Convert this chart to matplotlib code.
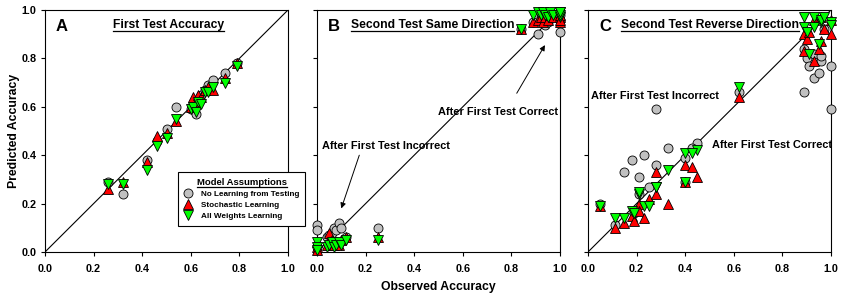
import matplotlib
matplotlib.use("Agg")
import matplotlib.pyplot as plt
from matplotlib.lines import Line2D

plt.rcParams['font.family'] = ['Liberation Sans', 'DejaVu Sans']

# ---------------- data ----------------
# Panel A: First Test Accuracy
a_obs   = [0.26, 0.32, 0.42, 0.46, 0.50, 0.54, 0.60, 0.61, 0.62, 0.63, 0.64, 0.66, 0.67, 0.69, 0.74, 0.79]
a_noL   = [0.29, 0.24, 0.38, 0.46, 0.51, 0.60, 0.59, 0.61, 0.57, 0.63, 0.65, 0.67, 0.69, 0.71, 0.74, 0.78]
a_stoch = [0.26, 0.29, 0.37, 0.48, 0.49, 0.54, 0.60, 0.64, 0.62, 0.65, 0.64, 0.67, 0.68, 0.67, 0.72, 0.78]
a_allW  = [0.28, 0.28, 0.34, 0.44, 0.47, 0.55, 0.59, 0.60, 0.58, 0.62, 0.61, 0.66, 0.66, 0.68, 0.70, 0.77]

# Panel B: Second Test Same Direction
b_obs   = [0.00, 0.00, 0.00, 0.04, 0.05, 0.06, 0.07, 0.08, 0.09, 0.10, 0.12, 0.25,
           0.84, 0.89, 0.91, 0.92, 0.93, 0.94, 0.95, 0.96, 0.97, 1.00, 1.00, 1.00, 1.00]
b_noL   = [0.11, 0.09, 0.02, 0.06, 0.07, 0.08, 0.10, 0.09, 0.12, 0.10, 0.06, 0.10,
           0.92, 0.95, 0.90, 0.97, 0.96, 0.94, 0.95, 0.97, 0.98, 0.91, 0.98, 0.99, 0.96]
b_stoch = [0.04, 0.02, 0.01, 0.03, 0.08, 0.05, 0.03, 0.04, 0.03, 0.05, 0.06, 0.06,
           0.92, 0.95, 0.96, 0.97, 0.95, 0.97, 0.96, 0.98, 0.97, 0.95, 0.97, 0.98, 0.96]
b_allW  = [0.04, 0.02, 0.01, 0.02, 0.03, 0.04, 0.02, 0.03, 0.04, 0.03, 0.05, 0.05,
           0.92, 0.98, 0.99, 0.98, 0.99, 0.98, 0.97, 0.99, 0.98, 0.97, 0.99, 0.98, 0.99]

# Panel C: Second Test Reverse Direction
c_obs   = [0.05, 0.11, 0.15, 0.18, 0.19, 0.21, 0.21, 0.23, 0.25, 0.28, 0.28, 0.33, 0.40, 0.40, 0.45, 0.43,
           0.62, 0.89, 0.89, 0.90, 0.91, 0.93, 0.93, 0.95, 0.96, 0.96, 0.97, 1.00, 1.00]
c_noL   = [0.20, 0.11, 0.33, 0.38, 0.16, 0.31, 0.24, 0.40, 0.27, 0.59, 0.36, 0.43, 0.39, 0.29, 0.45, 0.43,
           0.66, 0.66, 0.84, 0.80, 0.77, 0.72, 0.82, 0.74, 0.79, 0.81, 0.92, 0.77, 0.59]
c_stoch = [0.19, 0.10, 0.12, 0.15, 0.13, 0.20, 0.17, 0.14, 0.22, 0.33, 0.24, 0.20, 0.36, 0.29, 0.31, 0.35,
           0.64, 0.90, 0.83, 0.88, 0.91, 0.79, 0.96, 0.84, 0.87, 0.97, 0.92, 0.90, 0.96]
c_allW  = [0.19, 0.14, 0.14, 0.17, 0.16, 0.24, 0.25, 0.19, 0.19, 0.27, 0.27, 0.34, 0.41, 0.29, 0.42, 0.41,
           0.68, 0.97, 0.93, 0.91, 0.82, 0.93, 0.97, 0.86, 0.95, 0.96, 0.97, 0.95, 0.94]

ticks = [0.0, 0.2, 0.4, 0.6, 0.8, 1.0]
tick_labels = ["0.0", "0.2", "0.4", "0.6", "0.8", "1.0"]
titles = ["First Test Accuracy", "Second Test Same Direction", "Second Test Reverse Direction"]
letters = ["A", "B", "C"]
legend_labels = ["No Learning from Testing", "Stochastic Learning", "All Weights Learning"]

# ---------------- figure ----------------
fig = plt.figure(figsize=(8.41, 2.98), dpi=100)
W, H = 841.0, 298.0
lefts = [45, 317, 588]
axw = 243
bottom_px, top_px = 252, 10
axes = []
for lp in lefts:
    ax = fig.add_axes([lp / W, 1 - bottom_px / H, axw / W, (bottom_px - top_px) / H])
    axes.append(ax)

grey = "#c0c0c0"
red = "#ff0000"
green = "#00ff00"
ms = 6.5
mew = 0.6

datasets = [(a_obs, a_noL, a_stoch, a_allW),
            (b_obs, b_noL, b_stoch, b_allW),
            (c_obs, c_noL, c_stoch, c_allW)]

for i, ax in enumerate(axes):
    obs, noL, st, aw = datasets[i]
    ax.plot([0, 1], [0, 1], color="black", lw=0.8, zorder=1)
    ax.plot(obs, noL, linestyle="none", marker="o", ms=ms, mfc=grey, mec="black", mew=mew, zorder=3, clip_on=False)
    ax.plot(obs, st, linestyle="none", marker="^", ms=ms, mfc=red, mec="black", mew=mew, zorder=4, clip_on=False)
    ax.plot(obs, aw, linestyle="none", marker="v", ms=ms, mfc=green, mec="black", mew=mew, zorder=5, clip_on=False)
    ax.set_xlim(0, 1)
    ax.set_ylim(0, 1)
    ax.set_xticks(ticks)
    ax.set_xticklabels(tick_labels, fontsize=7.8, fontweight="bold")
    ax.set_yticks(ticks)
    if i == 0:
        ax.set_yticklabels(tick_labels, fontsize=7.8, fontweight="bold")
        ax.set_ylabel("Predicted Accuracy", fontsize=8.8, fontweight="bold", labelpad=1)
    else:
        ax.set_yticklabels([])
    ax.tick_params(axis="x", direction="out", length=3, width=0.8, pad=6)
    ax.tick_params(axis="y", direction="out", length=3, width=0.8, pad=3)
    for s in ax.spines.values():
        s.set_linewidth(0.8)
    ax.text(0.045, 0.93, letters[i], transform=ax.transAxes, fontsize=12, fontweight="bold",
            ha="left", va="center")

title_texts = []
tx = [0.51, 0.476, 0.503]
for i, ax in enumerate(axes):
    t = ax.text(tx[i], 0.937, titles[i], transform=ax.transAxes, fontsize=8.7, fontweight="bold",
                ha="center", va="center", zorder=6)
    title_texts.append(t)

fig.text(0.521, 0.037, "Observed Accuracy", ha="center", va="center", fontsize=8.8, fontweight="bold")

# annotations
axB, axC = axes[1], axes[2]
afs = 7.9
axB.text(0.02, 0.44, "After First Test Incorrect", fontsize=afs, fontweight="bold", ha="left", va="center", zorder=6)
axB.annotate("", xy=(0.10, 0.18), xytext=(0.174, 0.40),
             arrowprops=dict(arrowstyle="-|>", color="black", lw=0.7, mutation_scale=8, shrinkA=0, shrinkB=0))
axB.text(0.50, 0.578, "After First Test Correct", fontsize=afs, fontweight="bold", ha="left", va="center", zorder=6)
axB.annotate("", xy=(0.938, 0.855), xytext=(0.822, 0.656),
             arrowprops=dict(arrowstyle="-|>", color="black", lw=0.7, mutation_scale=8, shrinkA=0, shrinkB=0))
axC.text(0.012, 0.646, "After First Test Incorrect", fontsize=afs, fontweight="bold", ha="left", va="center", zorder=6)
axC.text(0.51, 0.442, "After First Test Correct", fontsize=afs, fontweight="bold", ha="left", va="center", zorder=6)

# legend
handles = [Line2D([], [], linestyle="none", marker="o", ms=ms, mfc=grey, mec="black", mew=mew),
           Line2D([], [], linestyle="none", marker="^", ms=ms, mfc=red, mec="black", mew=mew),
           Line2D([], [], linestyle="none", marker="v", ms=ms, mfc=green, mec="black", mew=mew)]
leg = fig.legend(handles, legend_labels, loc="upper left", bbox_to_anchor=(178 / W, 1 - 172 / H),
                 prop={"weight": "bold", "size": 5.9}, title="Model Assumptions",
                 title_fontproperties={"weight": "bold", "size": 6.8},
                 frameon=True, fancybox=False, edgecolor="black", framealpha=1,
                 handlelength=0.9, handletextpad=1.1, labelspacing=0.38, borderpad=0.75,
                 borderaxespad=0)
leg.get_frame().set_linewidth(0.8)
leg.set_zorder(10)

# underline titles
fig.canvas.draw()
renderer = fig.canvas.get_renderer()
inv = fig.transFigure.inverted()
for t in title_texts + [leg.get_title()]:
    bb = t.get_window_extent(renderer)
    (x0, y0), (x1, y1) = inv.transform([(bb.x0, bb.y0), (bb.x1, bb.y1)])
    yl = y0 + 0.6 / H
    ln = Line2D([x0, x1], [yl, yl], transform=fig.transFigure, color="black", lw=0.9, zorder=11)
    fig.add_artist(ln)

fig.savefig("out.png", dpi=100)
